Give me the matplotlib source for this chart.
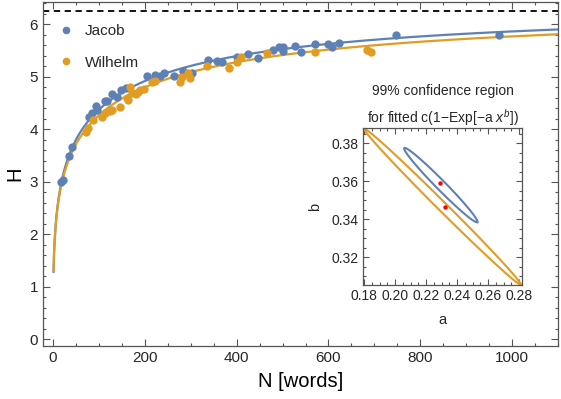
import numpy as np
import matplotlib
matplotlib.use("Agg")
import matplotlib.pyplot as plt
from matplotlib.ticker import MultipleLocator, FormatStrFormatter
from matplotlib.lines import Line2D

plt.rcParams['font.family'] = ['Liberation Sans', 'DejaVu Sans']
plt.rcParams['mathtext.fontset'] = 'custom'
plt.rcParams['mathtext.rm'] = 'Liberation Sans'
plt.rcParams['mathtext.it'] = 'Liberation Sans:italic'

# ---------------- data ----------------
jacob_N = [17, 22, 35, 42, 79, 84, 94, 96, 113, 117, 128, 140, 147, 159, 205, 222, 232, 242,
           264, 282, 302, 338, 357, 367, 401, 425, 446, 480, 493, 502, 502, 527, 540, 571,
           598, 608, 623, 748, 972]
jacob_H = [3.00, 3.04, 3.48, 3.66, 4.24, 4.30, 4.45, 4.37, 4.53, 4.53, 4.67, 4.62, 4.75, 4.78,
           5.02, 5.04, 5.02, 5.07, 5.02, 5.10, 5.06, 5.32, 5.29, 5.27, 5.37, 5.44, 5.35, 5.50,
           5.57, 5.57, 5.48, 5.59, 5.46, 5.62, 5.63, 5.57, 5.65, 5.80, 5.80]

wilhelm_N = [72, 77, 88, 106, 113, 124, 128, 146, 160, 163, 168, 171, 181, 186, 190, 198, 215,
             222, 277, 280, 293, 298, 335, 384, 400, 409, 465, 571, 685, 692]
wilhelm_H = [3.94, 4.02, 4.18, 4.23, 4.30, 4.34, 4.37, 4.43, 4.59, 4.56, 4.81, 4.69, 4.66, 4.70,
             4.75, 4.76, 4.89, 4.91, 4.89, 4.99, 5.06, 4.97, 5.21, 5.16, 5.27, 5.37, 5.45, 5.47,
             5.50, 5.47]

# fitted model c(1 - exp(-a x^b)) parameters (red dots in inset)
fit_a = {'Jacob': 0.229, 'Wilhelm': 0.232}
fit_b = {'Jacob': 0.3588, 'Wilhelm': 0.3465}
fit_c = {'Jacob': 6.27, 'Wilhelm': 6.26}
H_max = 6.25

# 99% confidence ellipses: center, major semi-axis vector, minor semi-axis vector (a, b units)
ell_center = {'Jacob': (0.2294, 0.3579), 'Wilhelm': (0.2305, 0.3465)}
ell_major = {'Jacob': (0.02355, -0.0195), 'Wilhelm': (0.0505, -0.0410)}
ell_minor = {'Jacob': (0.00215, 0.00175), 'Wilhelm': (0.00205, 0.00168)}

blue = '#5E81B5'
orange = '#E19C24'
txt = '#262626'
spine_c = '#555555'

fig = plt.figure(figsize=(5.61, 3.99), dpi=100)
ax = fig.add_axes([0.0766, 0.1328, 0.918, 0.862])

ax.axhline(H_max, color='black', lw=1.3, ls=(0, (3.5, 2.5)), zorder=1)

Nc = np.linspace(1, 1100, 1000)
for name, col in [('Jacob', blue), ('Wilhelm', orange)]:
    Hc = fit_c[name] * (1 - np.exp(-fit_a[name] * Nc ** fit_b[name]))
    ax.plot(Nc, Hc, color=col, lw=1.6, zorder=3 if name == 'Wilhelm' else 2)

ax.scatter(jacob_N, jacob_H, s=36, color=blue, zorder=4, linewidths=0)
ax.scatter(wilhelm_N, wilhelm_H, s=36, color=orange, zorder=4, linewidths=0)

ax.set_xlim(-22, 1100)
ax.set_ylim(-0.13, 6.42)
ax.xaxis.set_major_locator(MultipleLocator(200))
ax.xaxis.set_minor_locator(MultipleLocator(50))
ax.yaxis.set_major_locator(MultipleLocator(1))
ax.yaxis.set_minor_locator(MultipleLocator(0.2))
ax.tick_params(which='both', direction='in', top=True, right=True, color=spine_c,
               labelcolor=txt, labelsize=11)
ax.tick_params(which='major', length=5, width=0.8)
ax.tick_params(which='minor', length=2.5, width=0.8)
for s in ax.spines.values():
    s.set_color(spine_c)
    s.set_linewidth(0.9)

ax.set_xlabel('N [words]', fontsize=14.5, color='black', labelpad=5)
ax.set_ylabel('H', fontsize=14.5, color='black', labelpad=4)

handles = [Line2D([], [], ls='none', marker='o', ms=5.5, color=blue, mec='none'),
           Line2D([], [], ls='none', marker='o', ms=5.5, color=orange, mec='none')]
leg = ax.legend(handles, ['Jacob', 'Wilhelm'], loc='upper left', frameon=False,
                bbox_to_anchor=(0.0, 0.98), fontsize=11, labelspacing=1.15,
                handlelength=1.0, handletextpad=0.75, borderaxespad=0.6)
for t in leg.get_texts():
    t.set_color(txt)

# ---------------- inset ----------------
ins = fig.add_axes([0.647, 0.2857, 0.2835, 0.3933])
t = np.linspace(0, 2 * np.pi, 400)
for name, col in [('Wilhelm', orange), ('Jacob', blue)]:
    cx, cy = ell_center[name]
    ux, uy = ell_major[name]
    wx, wy = ell_minor[name]
    ins.plot(cx + np.cos(t) * ux + np.sin(t) * wx, cy + np.cos(t) * uy + np.sin(t) * wy,
             color=col, lw=1.5)
ins.scatter([fit_a['Jacob'], fit_a['Wilhelm']], [fit_b['Jacob'], fit_b['Wilhelm']],
            s=10, color='red', zorder=5, linewidths=0)
ins.set_xlim(0.1792, 0.2818)
ins.set_ylim(0.3053, 0.3879)
ins.xaxis.set_major_locator(MultipleLocator(0.02))
ins.xaxis.set_minor_locator(MultipleLocator(0.005))
ins.yaxis.set_major_locator(MultipleLocator(0.02))
ins.yaxis.set_minor_locator(MultipleLocator(0.005))
ins.xaxis.set_major_formatter(FormatStrFormatter('%.2f'))
ins.yaxis.set_major_formatter(FormatStrFormatter('%.2f'))
ins.tick_params(which='both', direction='in', top=True, right=True, color=spine_c,
                labelcolor=txt, labelsize=10, pad=3)
ins.tick_params(which='major', length=4, width=0.8)
ins.tick_params(which='minor', length=2, width=0.8)
for s in ins.spines.values():
    s.set_color(spine_c)
    s.set_linewidth(0.9)
ins.set_xlabel('a', fontsize=10.5, color=txt, labelpad=7)
ins.set_ylabel('b', fontsize=10.5, color=txt, labelpad=7)
ins.set_title('99% confidence region\nfor fitted c(1\u2212Exp[\u2212a $x^b$])',
              fontsize=10, color=txt, linespacing=1.55, pad=4)

fig.savefig('out.png', dpi=100)
